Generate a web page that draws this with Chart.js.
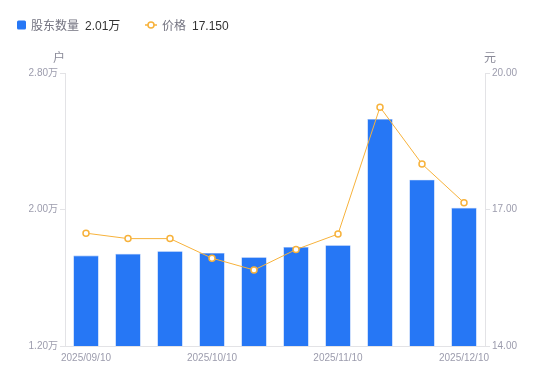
<!DOCTYPE html>
<html><head><meta charset="utf-8">
<script src="https://cdn.jsdelivr.net/npm/chart.js@4/dist/chart.umd.min.js"></script>
<style>html,body{margin:0;padding:0;background:#fff;}#wrap{width:550px;height:381px;}</style>
</head><body><div id="wrap"><canvas id="c" width="550" height="381"></canvas></div>
<script>
const categories = ['2025/09/10','2025/09/20','2025/09/30','2025/10/10','2025/10/20','2025/10/31','2025/11/10','2025/11/20','2025/11/28','2025/12/10'];
const holders = [1.73, 1.74, 1.755, 1.745, 1.72, 1.78, 1.79, 2.53, 2.175, 2.01];
const prices = [16.48, 16.36, 16.36, 15.93, 15.67, 16.12, 16.46, 19.25, 18.00, 17.15];
const holderTicks = [1.2, 2.0, 2.8];
const priceTicks = [14, 17, 20];
const seriesNames = ['股东数量', '价格'];
const axisTitles = ['户', '元'];

const FONT = '"Liberation Sans", "Noto Sans CJK SC", sans-serif';
const BLUE = '#2677F5';
const ORANGE = '#F7B23B';
const TICK = '#9c9cad';
const LINE = '#e3e3e6';

const overlay = {
  id: 'overlay',
  afterDraw(chart) {
    const ctx = chart.ctx;
    ctx.save();
    ctx.textBaseline = 'alphabetic';
    ctx.font = '12px ' + FONT;
    const base = 29.5;
    const cy = 25;
    ctx.fillStyle = BLUE;
    ctx.beginPath();
    ctx.roundRect(17, 20.5, 9, 9, 1.5);
    ctx.fill();
    ctx.fillStyle = '#737380';
    ctx.textAlign = 'left';
    ctx.fillText(seriesNames[0], 31, base);
    let w = ctx.measureText(seriesNames[0]).width;
    ctx.fillStyle = '#333';
    const v1 = holders[holders.length - 1].toFixed(2) + '万';
    ctx.fillText(v1, 31 + w + 6, base);
    ctx.strokeStyle = ORANGE;
    ctx.lineWidth = 1.5;
    ctx.beginPath(); ctx.moveTo(145, cy); ctx.lineTo(157, cy); ctx.stroke();
    ctx.fillStyle = '#fff';
    ctx.beginPath(); ctx.arc(151, cy, 3, 0, Math.PI * 2); ctx.fill(); ctx.stroke();
    ctx.fillStyle = '#737380';
    ctx.fillText(seriesNames[1], 162, base);
    w = ctx.measureText(seriesNames[1]).width;
    ctx.fillStyle = '#333';
    ctx.fillText(prices[prices.length - 1].toFixed(3), 162 + w + 6, base);
    ctx.fillStyle = '#8a8a98';
    ctx.textAlign = 'center';
    ctx.fillText(axisTitles[0], chart.chartArea.left - 6, 61.5);
    ctx.fillText(axisTitles[1], chart.chartArea.right + 5, 61.5);
    ctx.restore();
  }
};

new Chart(document.getElementById('c'), {
  data: {
    labels: categories,
    datasets: [
      {
        type: 'line', label: seriesNames[1], data: prices, yAxisID: 'y1', order: 0,
        borderColor: ORANGE, borderWidth: 1, pointRadius: 3, pointBorderWidth: 1.5,
        pointBackgroundColor: '#fff', pointBorderColor: ORANGE, tension: 0
      },
      {
        type: 'bar', label: seriesNames[0], data: holders, yAxisID: 'y', order: 1,
        backgroundColor: BLUE, borderColor: '#7aa9f7', borderWidth: 0.6,
        barPercentage: 0.6, categoryPercentage: 1.0
      }
    ]
  },
  options: {
    responsive: false, animation: false, devicePixelRatio: 1,
    layout: { padding: { top: 73, left: 0, right: 0, bottom: 0 } },
    plugins: { legend: { display: false }, tooltip: { enabled: false } },
    scales: {
      x: {
        grid: { display: false, drawTicks: false },
        border: { display: true, color: LINE, width: 1 },
        ticks: {
          autoSkip: false, maxRotation: 0, color: TICK, padding: 6,
          font: { size: 10, family: FONT },
          callback: function(v, i) { return i % 3 === 0 ? categories[i] : ''; }
        },
        afterFit(s) { s.height = 35; }
      },
      y: {
        position: 'left', min: holderTicks[0], max: holderTicks[holderTicks.length - 1],
        afterBuildTicks(s) { s.ticks = holderTicks.map(v => ({ value: v })); },
        grid: { drawOnChartArea: false, drawTicks: true, tickLength: 5, color: LINE },
        border: { display: true, color: LINE, width: 1 },
        ticks: { color: TICK, padding: 2, font: { size: 10, family: FONT },
          callback: v => Number(v).toFixed(2) + '万' },
        afterFit(s) { s.width = 65; }
      },
      y1: {
        position: 'right', min: priceTicks[0], max: priceTicks[priceTicks.length - 1],
        afterBuildTicks(s) { s.ticks = priceTicks.map(v => ({ value: v })); },
        grid: { drawOnChartArea: false, drawTicks: true, tickLength: 5, color: LINE },
        border: { display: true, color: LINE, width: 1 },
        ticks: { color: TICK, padding: 2, font: { size: 10, family: FONT },
          callback: v => Number(v).toFixed(2) },
        afterFit(s) { s.width = 65; }
      }
    }
  },
  plugins: [overlay]
});
</script></body></html>
